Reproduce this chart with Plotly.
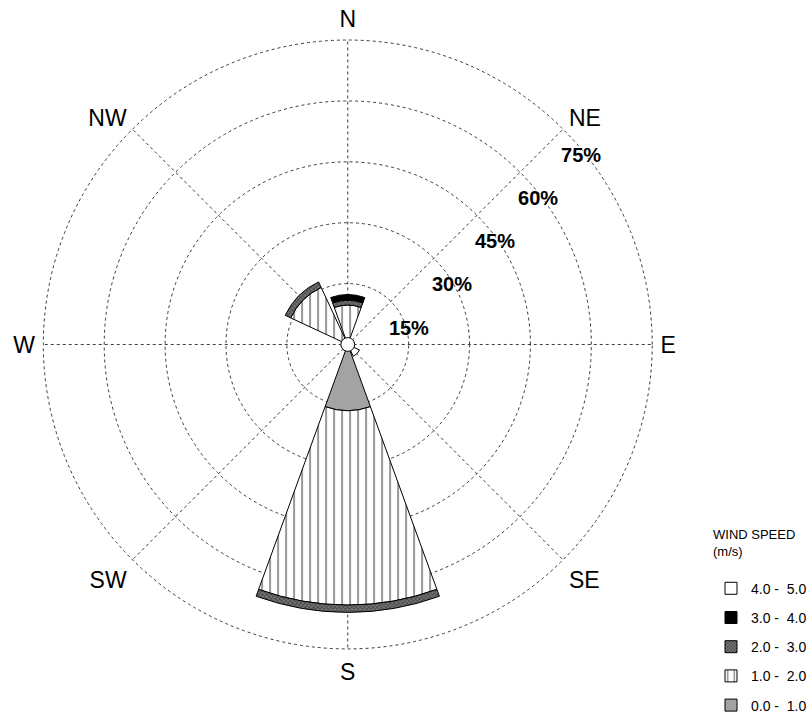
import numpy as np
import plotly.graph_objects as go

# Compass directions (degrees clockwise from north)
directions = ["N", "NE", "E", "SE", "S", "SW", "W", "NW"]
angles = [0, 45, 90, 135, 180, 225, 270, 315]

# Frequency (%) per direction for each wind-speed class (m/s)
freq_0_1 = [0.0, 0.0, 0.0, 0.0, 16.3, 0.0, 0.0, 0.0]
freq_1_2 = [9.7, 0.0, 0.0, 0.0, 47.9, 0.0, 0.0, 15.5]
freq_2_3 = [1.2, 0.0, 0.0, 0.0, 1.8, 0.0, 0.0, 1.5]
freq_3_4 = [1.4, 0.0, 0.0, 0.0, 0.0, 0.0, 0.0, 0.0]
freq_4_5 = [0.0, 0.0, 0.0, 3.2, 0.0, 0.0, 0.0, 0.0]
calm_pct = 1.7

speed_labels = ["0.0 -\u00a0\u00a01.0", "1.0 -\u00a0\u00a02.0", "2.0 -\u00a0\u00a03.0",
                "3.0 -\u00a0\u00a04.0", "4.0 -\u00a0\u00a05.0"]
ring_ticks = [15, 30, 45, 60, 75]
ring_labels = ["15%", "30%", "45%", "60%", "75%"]

series = [freq_0_1, freq_1_2, freq_2_3, freq_3_4, freq_4_5]
styles = [
    dict(color="#a3a3a3"),
    dict(color="white", pattern=dict(shape="|", fgcolor="black", bgcolor="white",
                                     size=8, solidity=0.2)),
    dict(color="#666666", pattern=dict(shape="x", fgcolor="#111111", bgcolor="#7a7a7a",
                                       size=3, solidity=0.5)),
    dict(color="black"),
    dict(color="white"),
]

sector_width = 40
fig = go.Figure()

bases = np.zeros(len(angles))
for i, (label, vals, style) in enumerate(zip(speed_labels, series, styles)):
    vals = np.array(vals, dtype=float)
    keep = vals > 0
    fig.add_trace(go.Barpolar(
        r=vals[keep],
        base=bases[keep],
        theta=np.array(angles)[keep],
        width=[sector_width] * int(keep.sum()),
        name=label,
        legendgroup=label,
        legendrank=100 - i,  # fastest class listed first
        marker=dict(line=dict(color="black", width=1), **style),
        hoverinfo="skip",
    ))
    bases = bases + vals

# Calm centre disc
fig.add_trace(go.Barpolar(
    r=[calm_pct], base=[0], theta=[0], width=[360],
    marker=dict(color="white", line=dict(color="black", width=1)),
    showlegend=False, hoverinfo="skip",
))

# Ring percentage labels, set just off the NE spoke on its clockwise side
label_offset = 6.3  # perpendicular offset from the spoke, in % units
ticks_arr = np.array(ring_ticks, dtype=float)
lab_r = np.hypot(ticks_arr, label_offset)
lab_theta = 45 + np.degrees(np.arctan2(label_offset, ticks_arr))
fig.add_trace(go.Scatterpolar(
    r=lab_r, theta=lab_theta, mode="text", text=ring_labels,
    textposition="bottom center",
    textfont=dict(size=20, family="Liberation Sans, Arial, sans-serif",
                  weight="bold", color="black"),
    showlegend=False, hoverinfo="skip", cliponaxis=False,
))

r_max = 75.3
grid = dict(gridcolor="#3a3a3a", gridwidth=1, griddash="dot")
fig.update_layout(
    width=812, height=725,
    margin=dict(l=0, r=0, t=0, b=0),
    paper_bgcolor="white", plot_bgcolor="white",
    font=dict(family="Liberation Sans, Arial, sans-serif", color="black"),
    polar=dict(
        domain=dict(x=[0.0521, 0.8087], y=[0.1011, 0.9486]),
        bgcolor="white",
        barmode="overlay",
        radialaxis=dict(
            range=[0, r_max], tickmode="array", tickvals=ring_ticks,
            angle=45, showline=False, ticks="", showticklabels=False,
            **grid,
        ),
        angularaxis=dict(
            rotation=90, direction="clockwise",
            tickmode="array", tickvals=angles, ticktext=directions,
            showline=False, ticks="outside", ticklen=2, tickcolor="rgba(0,0,0,0)",
            tickfont=dict(size=23, color="black"),
            **grid,
        ),
    ),
    legend=dict(
        x=0.88, y=0.28, xanchor="left", yanchor="top",
        traceorder="grouped", tracegroupgap=8,
        title=dict(text="WIND SPEED<br>(m/s)<br> ", font=dict(size=13)),
        font=dict(size=14), itemwidth=30, bgcolor="rgba(0,0,0,0)",
    ),
)

fig.write_html("out.html")
